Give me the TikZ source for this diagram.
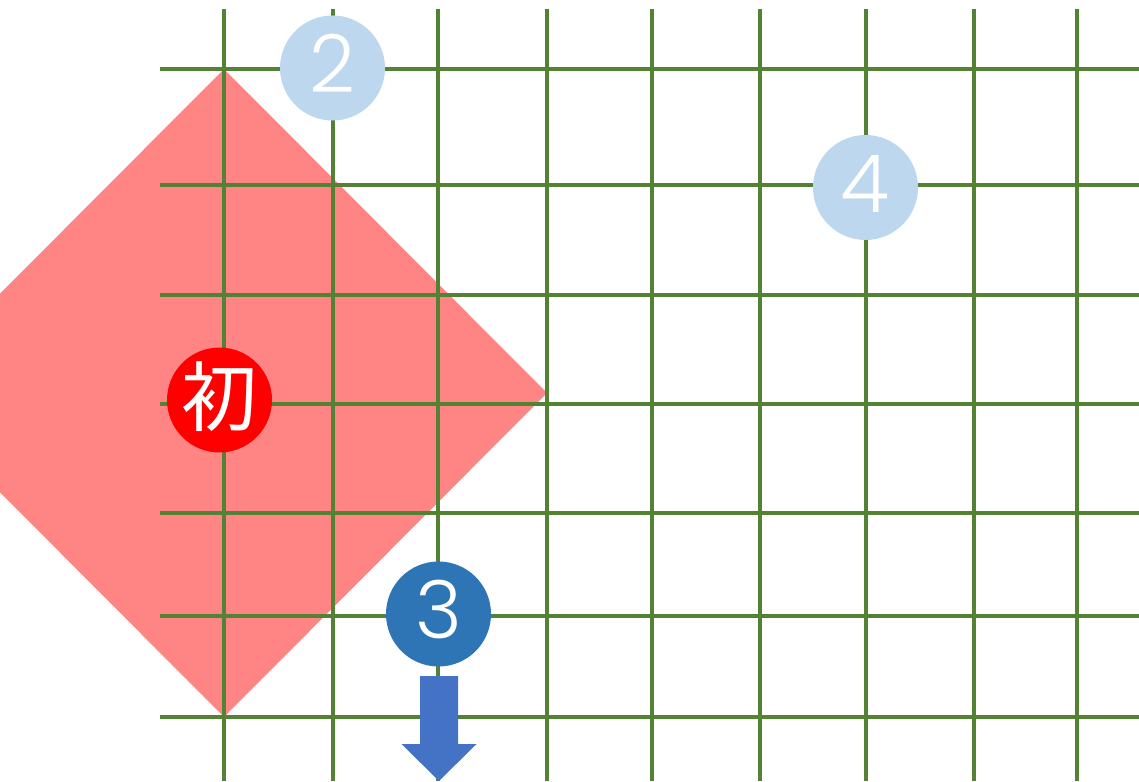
\documentclass[tikz,border=0pt]{standalone}
\usepackage{fontspec}
\newfontfamily\cjkfont{Noto Sans CJK JP}
\newfontfamily\digitfont{Poppins Light}
\definecolor{gridgreen}{HTML}{548235}
\definecolor{diamondpink}{HTML}{FF8585}
\definecolor{lightblue}{HTML}{BDD7EE}
\definecolor{darkblue}{HTML}{2E75B6}
\definecolor{arrowblue}{HTML}{4472C4}
\definecolor{markred}{HTML}{FF0000}
\begin{document}
\begin{tikzpicture}[x=1pt,y=-1pt,
  gridline/.style={draw=gridgreen,line width=4pt},
  marker/.style={circle,minimum size=105pt,inner sep=0pt},
  digit/.style={inner sep=0pt,text=white,font=\digitfont\fontsize{80}{80}\selectfont},
  kanji/.style={inner sep=0pt,text=white,font=\cjkfont\fontsize{76}{76}\selectfont},
]
\useasboundingbox (0,0) rectangle (1139,781);
\begin{scope}
\clip (0,0) rectangle (1139,781);
\fill[diamondpink] (224,69) -- (547,393) -- (224,717) -- (-99,393) -- cycle;
\foreach \y in {69,185,295,404,513,616,717}
  \draw[gridline] (160,\y) -- (1139,\y);
\foreach \x in {224,333,438,547,652,760,866,974,1077}
  \draw[gridline] (\x,9) -- (\x,781);
\node[marker,fill=lightblue] (n2) at (332.5,68) {};
\node[marker,fill=lightblue] (n4) at (865.5,187.5) {};
\node[marker,fill=markred] (n1) at (219.5,400) {};
\node[marker,fill=darkblue] (n3) at (438.5,614) {};
\node[digit] (t2) at ([yshift=4.5pt]n2.center) {2};
\node[digit] (t4) at ([yshift=4pt]n4.center) {4};
\node[digit] (t3) at ([yshift=5pt]n3.center) {3};
\node[kanji] (t1) at ([yshift=3pt]n1.center) {初};
\fill[arrowblue] (420,676) -- (458,676) -- (458,744) -- (476.5,744) -- (439,781) -- (401.5,744) -- (420,744) -- cycle;
\end{scope}
\end{tikzpicture}
\end{document}
